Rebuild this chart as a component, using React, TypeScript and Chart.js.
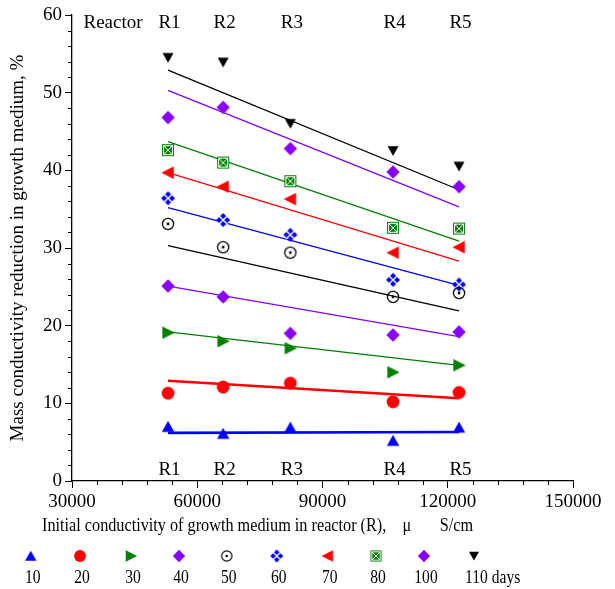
import React, { useEffect, useRef } from "react";
import { Chart, registerables } from "chart.js";

Chart.register(...registerables);

// ---------- data ----------
const reactorLabels = ["R1", "R2", "R3", "R4", "R5"];
const conductivity = [53000, 66200, 82300, 106900, 122700];
const dayLabels = ["10", "20", "30", "40", "50", "60", "70", "80", "100", "110 days"];

const d10 = [7.0, 6.1, 6.9, 5.2, 6.9];
const d20 = [11.3, 12.1, 12.6, 10.2, 11.4];
const d30 = [19.1, 18.0, 17.1, 14.0, 14.9];
const d40 = [25.1, 23.7, 19.0, 18.8, 19.2];
const d50 = [33.1, 30.1, 29.4, 23.7, 24.2];
const d60 = [36.4, 33.6, 31.7, 25.9, 25.3];
const d70 = [39.7, 37.9, 36.3, 29.4, 30.1];
const d80 = [42.6, 41.0, 38.6, 32.6, 32.5];
const d100 = [46.8, 48.1, 42.8, 39.8, 37.9];
const d110 = [54.5, 53.9, 46.0, 42.5, 40.5];

// fitted trend lines: values at first and last reactor conductivity
const fitX = [53000, 122700];
const t10 = [6.2, 6.3];
const t20 = [12.9, 10.65];
const t30 = [19.2, 14.9];
const t40 = [25.1, 18.6];
const t50 = [30.3, 21.9];
const t60 = [35.2, 25.2];
const t70 = [39.7, 28.3];
const t80 = [43.7, 30.9];
const t100 = [50.3, 35.3];
const t110 = [52.9, 37.5];

const yTicksMajor = [0, 10, 20, 30, 40, 50, 60];
const xTicksMajor = [30000, 60000, 90000, 120000, 150000];

const yTitle = "Mass conductivity reduction in growth medium, %";
const xTitle = "Initial conductivity of growth medium in reactor (R),    \u03bc       S/cm";

// ---------- styles ----------
const BLUE = "#0000ff";
const RED = "#ff0000";
const GREEN = "#008000";
const PURPLE = "#8800ff";
const BLACK = "#000000";
const FONT = "'Liberation Serif', 'Times New Roman', serif";

type Kind = "up" | "down" | "left" | "right" | "circle" | "diamond" | "circleDot" | "crossDiamond" | "squareX";

function makeMarker(kind: Kind, color: string, scale = 1): HTMLCanvasElement {
  const size = 18;
  const c = document.createElement("canvas");
  c.width = size;
  c.height = size;
  const g = c.getContext("2d")!;
  g.translate(size / 2, size / 2);
  g.scale(scale, scale);
  g.fillStyle = color;
  g.strokeStyle = color;
  const poly = (pts: number[][]) => {
    g.beginPath();
    g.moveTo(pts[0][0], pts[0][1]);
    for (let i = 1; i < pts.length; i++) g.lineTo(pts[i][0], pts[i][1]);
    g.closePath();
    g.fill();
  };
  switch (kind) {
    case "up":
      poly([[0, -5.7], [6.2, 5.2], [-6.2, 5.2]]);
      break;
    case "down":
      poly([[0, 5], [5.5, -4.7], [-5.5, -4.7]]);
      break;
    case "right":
      poly([[6.7, 0], [-5.7, -6.2], [-5.7, 6.2]]);
      break;
    case "left":
      poly([[-6.7, 0], [5.7, -6.2], [5.7, 6.2]]);
      break;
    case "circle":
      g.beginPath();
      g.arc(0, 0, 6.4, 0, Math.PI * 2);
      g.fill();
      break;
    case "diamond":
      poly([[0, -6.7], [6.7, 0], [0, 6.7], [-6.7, 0]]);
      break;
    case "circleDot":
      g.lineWidth = 1.3;
      g.beginPath();
      g.arc(0, 0, 5.6, 0, Math.PI * 2);
      g.stroke();
      g.beginPath();
      g.arc(0, 0, 1.4, 0, Math.PI * 2);
      g.fill();
      break;
    case "crossDiamond":
      poly([[0, -7], [7, 0], [0, 7], [-7, 0]]);
      g.strokeStyle = "#ffffff";
      g.lineWidth = 1.4;
      g.beginPath();
      g.moveTo(-4.3, -4.3);
      g.lineTo(4.3, 4.3);
      g.moveTo(4.3, -4.3);
      g.lineTo(-4.3, 4.3);
      g.stroke();
      break;
    case "squareX":
      g.fillRect(-6, -6, 12, 12);
      g.strokeStyle = "#ffffff";
      g.lineWidth = 1;
      g.strokeRect(-4.5, -4.5, 9, 9);
      g.beginPath();
      g.moveTo(-4.5, -4.5);
      g.lineTo(4.5, 4.5);
      g.moveTo(4.5, -4.5);
      g.lineTo(-4.5, 4.5);
      g.stroke();
      break;
  }
  return c;
}

const seriesDefs: { values: number[]; trend: number[]; color: string; kind: Kind; width: number }[] = [
  { values: d10, trend: t10, color: BLUE, kind: "up", width: 2.6 },
  { values: d20, trend: t20, color: RED, kind: "circle", width: 2.6 },
  { values: d30, trend: t30, color: GREEN, kind: "right", width: 1.3 },
  { values: d40, trend: t40, color: PURPLE, kind: "diamond", width: 1.3 },
  { values: d50, trend: t50, color: BLACK, kind: "circleDot", width: 1.3 },
  { values: d60, trend: t60, color: BLUE, kind: "crossDiamond", width: 1.3 },
  { values: d70, trend: t70, color: RED, kind: "left", width: 1.3 },
  { values: d80, trend: t80, color: GREEN, kind: "squareX", width: 1.3 },
  { values: d100, trend: t100, color: PURPLE, kind: "diamond", width: 1.3 },
  { values: d110, trend: t110, color: BLACK, kind: "down", width: 1.3 },
];

const legendX = [30.7, 80, 131, 179, 226.7, 276.7, 327.7, 376, 424, 474];

export default function App() {
  const ref = useRef<HTMLCanvasElement | null>(null);

  useEffect(() => {
    document.body.style.margin = "0";
    document.body.style.overflow = "hidden";
    const canvas = ref.current!;
    const markers = seriesDefs.map((s) => makeMarker(s.kind, s.color));
    const legendMarkers = seriesDefs.map((s) => makeMarker(s.kind, s.color, 0.92));

    const datasets: any[] = [];
    seriesDefs.forEach((s, i) => {
      datasets.push({
        label: dayLabels[i] + " fit",
        data: fitX.map((x, j) => ({ x, y: s.trend[j] })),
        showLine: true,
        borderColor: s.color,
        borderWidth: s.width,
        pointRadius: 0,
        order: 2,
      });
      datasets.push({
        label: dayLabels[i],
        data: conductivity.map((x, j) => ({ x, y: s.values[j] })),
        showLine: false,
        pointStyle: markers[i],
        pointRadius: 7,
        order: 1,
      });
    });

    const annot = {
      id: "annot",
      afterDraw(chart: any) {
        const ctx = chart.ctx;
        const xs = chart.scales.x;
        const ys = chart.scales.y;
        const area = chart.chartArea;
        ctx.save();
        // minor ticks
        ctx.strokeStyle = "#000";
        ctx.lineWidth = 1;
        ctx.beginPath();
        for (let v = 0; v <= 60; v += 2) {
          if (v % 10 === 0) continue;
          const py = Math.round(ys.getPixelForValue(v)) + 0.5;
          ctx.moveTo(area.left - 4, py);
          ctx.lineTo(area.left, py);
        }
        for (let v = 30000; v <= 150000; v += 6000) {
          if (v % 30000 === 0) continue;
          const px = Math.round(xs.getPixelForValue(v)) + 0.5;
          ctx.moveTo(px, area.bottom);
          ctx.lineTo(px, area.bottom + 4);
        }
        ctx.stroke();

        ctx.fillStyle = "#000";
        ctx.font = "19px " + FONT;
        ctx.textBaseline = "alphabetic";
        ctx.textAlign = "center";
        ctx.fillText("Reactor", 113, 28);
        reactorLabels.forEach((r, i) => {
          const px = xs.getPixelForValue(conductivity[i]);
          ctx.fillText(r, px + 1.5, 28);
          ctx.fillText(r, px + 1.5, 475);
        });
        // x title (condensed to match reference width)
        ctx.font = "19px " + FONT;
        const w = ctx.measureText(xTitle).width;
        ctx.save();
        ctx.translate(42, 531);
        ctx.scale(431 / w, 1);
        ctx.textAlign = "left";
        ctx.fillText(xTitle, 0, 0);
        ctx.restore();
        // legend
        ctx.font = "19px " + FONT;
        seriesDefs.forEach((s, i) => {
          const m = legendMarkers[i];
          ctx.drawImage(m, legendX[i] - m.width / 2, 556 - m.height / 2);
          ctx.save();
          if (i === seriesDefs.length - 1) {
            ctx.translate(legendX[i] - 9, 583);
            ctx.scale(0.82, 1);
            ctx.textAlign = "left";
          } else {
            ctx.translate(legendX[i] + 2, 583);
            ctx.scale(0.82, 1);
            ctx.textAlign = "center";
          }
          ctx.fillText(dayLabels[i], 0, 0);
          ctx.restore();
        });
        ctx.restore();
      },
    };

    const chart = new Chart(canvas, {
      type: "scatter",
      data: { datasets },
      plugins: [annot],
      options: {
        animation: false,
        responsive: false,
        devicePixelRatio: 1,
        layout: { padding: { left: 0, right: 42, top: 15, bottom: 78 } },
        plugins: {
          legend: { display: false },
          tooltip: { enabled: false },
        },
        scales: {
          x: {
            type: "linear",
            min: xTicksMajor[0],
            max: xTicksMajor[xTicksMajor.length - 1],
            afterBuildTicks: (scale: any) => {
              scale.ticks = xTicksMajor.map((v) => ({ value: v }));
            },
            ticks: {
              callback: (v: any) => String(v),
              color: "#000",
              font: { family: FONT, size: 19 },
              padding: 3,
              maxRotation: 0,
              autoSkip: false,
            },
            grid: { drawOnChartArea: false, tickLength: 7, tickColor: "#000", color: "#000" },
            border: { color: "#000", width: 1.3 },
            afterFit: (scale: any) => {
              scale.height = 30;
            },
          },
          y: {
            type: "linear",
            min: yTicksMajor[0],
            max: yTicksMajor[yTicksMajor.length - 1],
            afterBuildTicks: (scale: any) => {
              scale.ticks = yTicksMajor.map((v) => ({ value: v }));
            },
            ticks: {
              color: "#000",
              font: { family: FONT, size: 19 },
              padding: 3,
              autoSkip: false,
            },
            grid: { drawOnChartArea: false, tickLength: 7, tickColor: "#000", color: "#000" },
            border: { color: "#000", width: 1.3 },
            title: {
              display: true,
              text: yTitle,
              color: "#000",
              font: { family: FONT, size: 19 },
              padding: { top: 7, bottom: 0 },
            },
            afterFit: (scale: any) => {
              scale.width = 72;
            },
          },
        },
      } as any,
    });
    return () => chart.destroy();
  }, []);

  return <canvas ref={ref} width={615} height={589} style={{ display: "block" }} />;
}
